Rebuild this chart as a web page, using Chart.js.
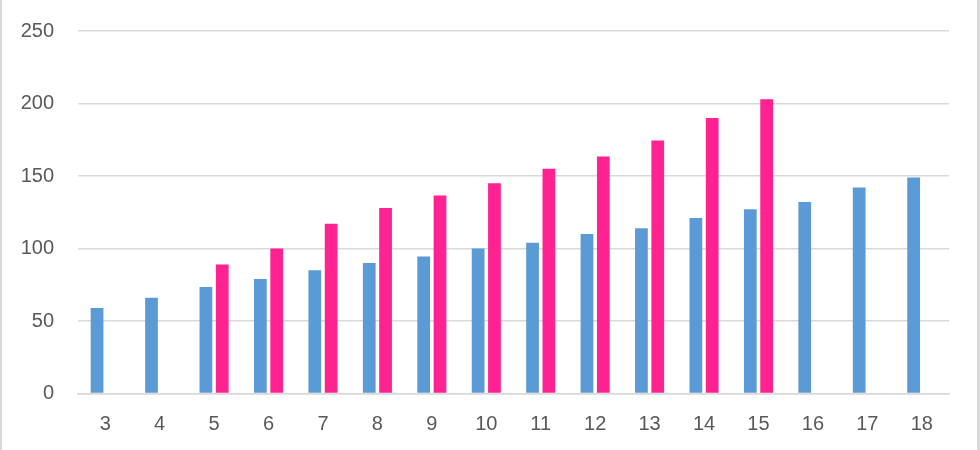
<!DOCTYPE html>
<html>
<head>
<meta charset="utf-8">
<script src="https://cdn.jsdelivr.net/npm/chart.js@4.4.1/dist/chart.umd.min.js"></script>
<style>
  html, body { margin: 0; padding: 0; background: #fff; }
  #wrap { width: 980px; height: 450px; position: relative; }
</style>
</head>
<body>
<div id="wrap"><canvas id="chart" width="980" height="450"></canvas></div>
<script>
const categories = ['3', '4', '5', '6', '7', '8', '9', '10', '11', '12', '13', '14', '15', '16', '17', '18'];
const blueValues = [59, 66, 73.5, 79, 85, 90, 94.5, 100, 104, 110, 114, 121, 127, 132, 142, 149];
const pinkValues = [null, null, 89, 100, 117, 128, 136.5, 145, 155, 163.5, 174.5, 190, 203, null, null, null];
const yTicks = [0, 50, 100, 150, 200, 250];

const tickFont = { family: '"Liberation Sans", Arial, sans-serif', size: 20 };
const tickColor = '#595959';

// light grey frame on the left and right edges, like the cropped Excel chart
const framePlugin = {
  id: 'frame',
  afterDraw(chart) {
    const ctx = chart.ctx;
    ctx.save();
    ctx.fillStyle = '#d9d9d9';
    ctx.fillRect(0, 0, 2, chart.height);
    ctx.fillRect(977, 0, 3, chart.height);
    ctx.restore();
  },
};

new Chart(document.getElementById('chart'), {
  type: 'bar',
  data: {
    labels: categories,
    datasets: [
      {
        data: blueValues,
        backgroundColor: '#5b9bd5',
        categoryPercentage: 0.6,
        barPercentage: 0.78,
      },
      {
        data: pinkValues,
        backgroundColor: '#ff2290',
        categoryPercentage: 0.6,
        barPercentage: 0.78,
      },
    ],
  },
  options: {
    responsive: false,
    animation: false,
    layout: {
      padding: { top: 31, right: 31, bottom: 0, left: 0 },
    },
    plugins: {
      legend: { display: false },
      tooltip: { enabled: false },
    },
    scales: {
      x: {
        grid: { display: false, drawTicks: false },
        border: { display: true, color: '#d9d9d9', width: 1.5 },
        ticks: { color: tickColor, font: tickFont, padding: 19 },
        afterFit: scale => {
          scale.height = 56.5;
          scale.paddingLeft = 0;
          scale.paddingRight = 0;
        },
      },
      y: {
        min: 0,
        max: 250,
        afterBuildTicks: scale => {
          scale.ticks = yTicks.map(v => ({ value: v }));
        },
        grid: { color: '#d9d9d9', lineWidth: 1.5, drawTicks: false },
        border: { display: false },
        ticks: { color: tickColor, font: tickFont, padding: 24 },
        afterFit: scale => {
          scale.width = 78;
          scale.paddingTop = 0;
          scale.paddingBottom = 0;
        },
      },
    },
  },
  plugins: [framePlugin],
});
</script>
</body>
</html>
